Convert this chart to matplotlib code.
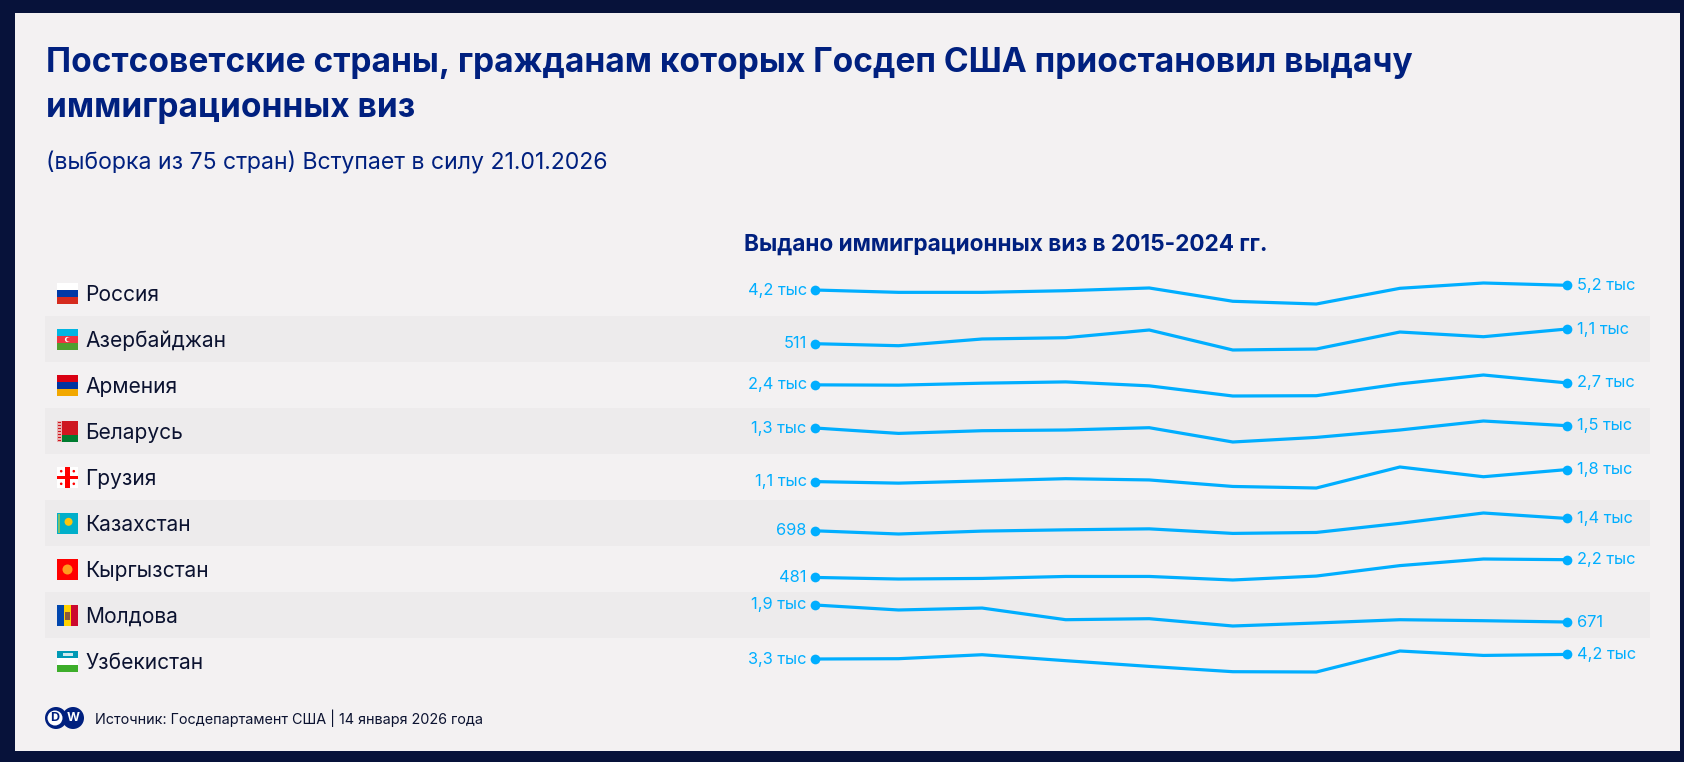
import matplotlib
matplotlib.use('Agg')
import matplotlib.pyplot as plt
from matplotlib.patches import Rectangle, Circle

plt.rcParams['font.family'] = ['Inter', 'Noto Sans', 'DejaVu Sans']

W, H = 1684, 762

# data: visas per year in thousands, 2015-2024
years = list(range(2015, 2025))
countries = ['Россия', 'Азербайджан', 'Армения', 'Беларусь', 'Грузия',
             'Казахстан', 'Кыргызстан', 'Молдова', 'Узбекистан']
russia = [4.2, 3.7, 3.7, 4.05, 4.63, 1.8, 1.22, 4.56, 5.69, 5.2]
azerbaijan = [0.511, 0.431, 0.70, 0.751, 1.06, 0.259, 0.299, 0.979, 0.791, 1.1]
armenia = [2.4, 2.355, 2.655, 2.85, 2.25, 0.705, 0.75, 2.55, 3.9, 2.7]
belarus = [1.3, 0.83, 1.065, 1.126, 1.326, 0.082, 0.482, 1.126, 1.909, 1.5]
georgia = [1.1, 1.01, 1.14, 1.27, 1.196, 0.817, 0.727, 1.95, 1.383, 1.8]
kazakhstan = [0.698, 0.516, 0.681, 0.753, 0.809, 0.549, 0.604, 1.124, 1.71, 1.4]
kyrgyzstan = [0.481, 0.328, 0.385, 0.577, 0.577, 0.233, 0.615, 1.627, 2.267, 2.2]
moldova = [1.9, 1.54, 1.68, 0.837, 0.91, 0.382, 0.6, 0.837, 0.765, 0.671]
uzbekistan = [3.3, 3.36, 4.14, 2.97, 1.85, 0.81, 0.75, 4.87, 4.0, 4.2]
series = [russia, azerbaijan, armenia, belarus, georgia,
          kazakhstan, kyrgyzstan, moldova, uzbekistan]
start_labels = ['4,2 тыс', '511', '2,4 тыс', '1,3 тыс', '1,1 тыс',
                '698', '481', '1,9 тыс', '3,3 тыс']
end_labels = ['5,2 тыс', '1,1 тыс', '2,7 тыс', '1,5 тыс', '1,8 тыс',
              '1,4 тыс', '2,2 тыс', '671', '4,2 тыс']

title = 'Постсоветские страны, гражданам которых Госдеп США приостановил выдачу\nиммиграционных виз'
subtitle = '(выборка из 75 стран) Вступает в силу 21.01.2026'
header = 'Выдано иммиграционных виз в 2015-2024 гг.'
source = 'Источник: Госдепартамент США | 14 января 2026 года'

NAVY = '#00207F'
BLUE = '#00AEFF'
DARK = '#0B1230'

fig = plt.figure(figsize=(W / 100, H / 100), dpi=100, facecolor='#07123A')

# whole figure in pixels, y going down, for the page furniture
bg = fig.add_axes([0, 0, 1, 1])
bg.set_xlim(0, W)
bg.set_ylim(H, 0)
bg.axis('off')
bg.add_patch(Rectangle((15, 13), 1665, 738, fc='#F3F1F2', ec='none'))

ROW_TOP = 270
ROW_H = 46


def flag(name, x, y, w=21, h=21):
    def r(x0, y0, ww, hh, c):
        bg.add_patch(Rectangle((x + x0 * w, y + y0 * h), ww * w, hh * h, fc=c, ec='none', zorder=3))

    def c(x0, y0, rad, col):
        bg.add_patch(Circle((x + x0 * w, y + y0 * h), rad, fc=col, ec='none', zorder=4))

    if name == 'Россия':
        r(0, 0, 1, 1 / 3, 'white'); r(0, 1 / 3, 1, 1 / 3, '#0039A6'); r(0, 2 / 3, 1, 1 / 3, '#D52B1E')
    elif name == 'Азербайджан':
        r(0, 0, 1, 1 / 3, '#00B5E2'); r(0, 1 / 3, 1, 1 / 3, '#EF3340'); r(0, 2 / 3, 1, 1 / 3, '#509E2F')
        c(0.5, 0.5, 2.6, 'white'); c(0.55, 0.5, 2.1, '#EF3340')
    elif name == 'Армения':
        r(0, 0, 1, 1 / 3, '#D90012'); r(0, 1 / 3, 1, 1 / 3, '#0033A0'); r(0, 2 / 3, 1, 1 / 3, '#F2A800')
    elif name == 'Беларусь':
        r(0, 0, 1, 2 / 3, '#CE1720'); r(0, 2 / 3, 1, 1 / 3, '#007C30'); r(0, 0, 0.24, 1, '#E8B0B0')
        for k in range(7):
            r(0.06, k / 7 + 0.03, 0.12, 0.08, '#CE1720')
    elif name == 'Грузия':
        r(0, 0, 1, 1, 'white'); r(0.4, 0, 0.2, 1, '#FF0000'); r(0, 0.42, 1, 0.16, '#FF0000')
        for cx in (0.2, 0.8):
            for cy in (0.2, 0.8):
                c(cx, cy, 1.3, '#FF0000')
    elif name == 'Казахстан':
        r(0, 0, 1, 1, '#00AFCA'); r(0.06, 0.05, 0.1, 0.9, '#7FBF6A'); c(0.55, 0.42, 4, '#FEC50C')
    elif name == 'Кыргызстан':
        r(0, 0, 1, 1, '#FF0000'); c(0.5, 0.5, 5, '#FF9A1E')
    elif name == 'Молдова':
        r(0, 0, 1 / 3, 1, '#0046AE'); r(1 / 3, 0, 1 / 3, 1, '#FFD200'); r(2 / 3, 0, 1 / 3, 1, '#CC092F')
        r(0.38, 0.35, 0.24, 0.35, '#8A5A3C')
    elif name == 'Узбекистан':
        r(0, 0, 1, 1 / 3, '#0099B5'); r(0, 1 / 3, 1, 1 / 3, 'white'); r(0, 2 / 3, 1, 1 / 3, '#3DAE2B')
        r(0, 0.32, 1, 0.03, '#F2A0A0'); r(0, 0.65, 1, 0.03, '#F2A0A0'); r(0.3, 0.08, 0.45, 0.14, '#CFE9EE')


for i, name in enumerate(countries):
    top = ROW_TOP + i * ROW_H
    if i % 2 == 1:
        bg.add_patch(Rectangle((45, top), 1605, ROW_H, fc='#EDEBEC', ec='none'))
    flag(name, 57, top + 13)
    bg.text(85.5, top + 25, name, fontsize=15.1, color=DARK, va='center', ha='left')

bg.text(46, 63, title.split('\n')[0], fontsize=24.1, fontweight='bold', color=NAVY, va='center')
bg.text(46, 108, title.split('\n')[1], fontsize=24.1, fontweight='bold', color=NAVY, va='center')
bg.text(46, 163, subtitle, fontsize=16.6, color=NAVY, va='center')
bg.text(744, 245, header, fontsize=16.3, fontweight='bold', color=NAVY, va='center')
bg.text(95, 718, source, fontsize=10.35, color=DARK, va='center')

# DW logo
bg.add_patch(Circle((73, 718), 11, fc=NAVY, ec='none'))
bg.add_patch(Circle((56, 718), 11, fc=NAVY, ec='none'))
bg.add_patch(Circle((55, 718), 7.5, fc='white', ec='none'))
bg.text(55, 718, 'D', fontsize=9, fontweight='bold', color=NAVY, ha='center', va='center')
bg.text(73.5, 718, 'W', fontsize=9, fontweight='bold', color='white', ha='center', va='center')

# one small axes per country, each with its own min-max scale
for i, vals in enumerate(series):
    top = ROW_TOP + i * ROW_H + 13
    ax = fig.add_axes([815 / W, 1 - (top + 21) / H, (1567 - 815) / W, 21 / H])
    ax.patch.set_alpha(0)
    ax.axis('off')
    ax.set_xlim(years[0], years[-1])
    ax.set_ylim(min(vals), max(vals))
    ax.plot(years, vals, color=BLUE, lw=2.3, solid_joinstyle='miter', clip_on=False)
    ax.plot([years[0], years[-1]], [vals[0], vals[-1]], 'o', color=BLUE, ms=7, mec='none', clip_on=False)
    ax.annotate(start_labels[i], (years[0], vals[0]), xytext=(-6, 0), textcoords='offset points',
                ha='right', va='center', fontsize=11.8, color=BLUE)
    ax.annotate(end_labels[i], (years[-1], vals[-1]), xytext=(7, 0), textcoords='offset points',
                ha='left', va='center', fontsize=11.8, color=BLUE)

fig.savefig('out.png', dpi=100, facecolor=fig.get_facecolor())
